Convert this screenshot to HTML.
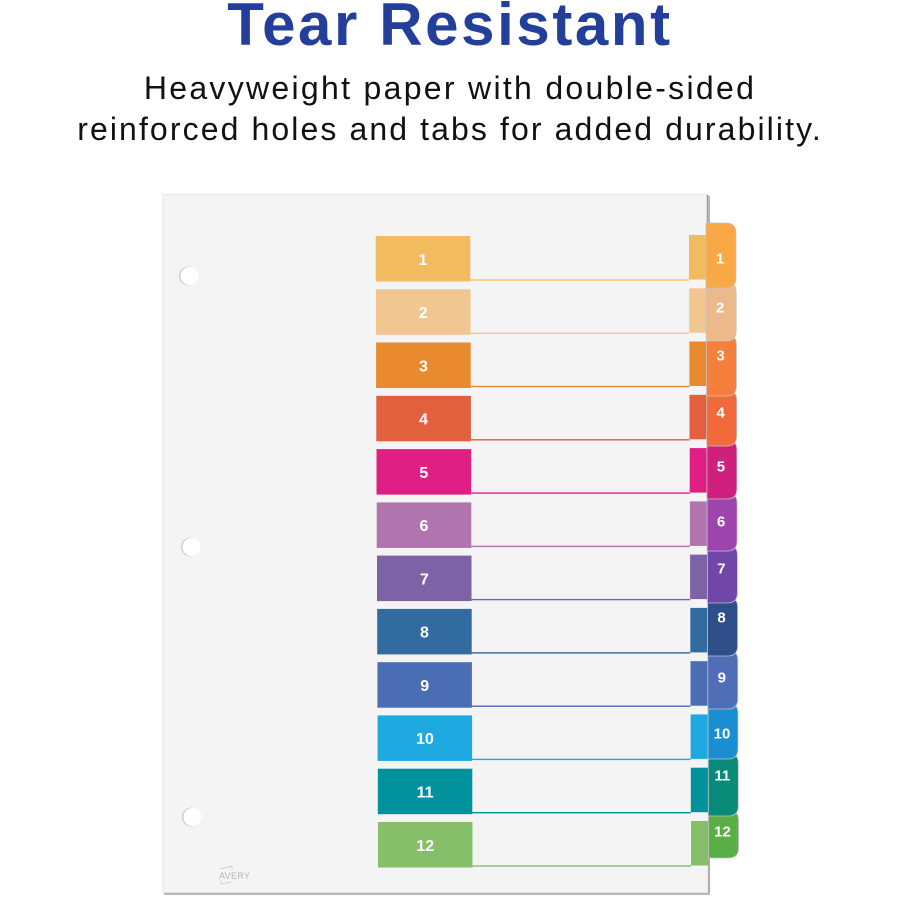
<!DOCTYPE html>
<html><head><meta charset="utf-8"><style>
html,body{margin:0;padding:0;background:#fff;}
body{width:900px;height:900px;position:relative;overflow:hidden;font-family:"Liberation Sans",sans-serif;}
.t{position:absolute;left:0;width:900px;text-align:center;white-space:nowrap;}
#title{top:-10px;font-size:60px;font-weight:bold;color:#243f99;letter-spacing:2.6px;line-height:70px;}
#s1{top:68px;font-size:32px;color:#111;letter-spacing:2.3px;line-height:40px;}
#s2{top:109px;font-size:32px;color:#111;letter-spacing:2.1px;line-height:40px;}
svg{position:absolute;left:0;top:0;}
</style></head><body>
<svg width="900" height="900" viewBox="0 0 900 900" xmlns="http://www.w3.org/2000/svg">
<rect x="164" y="196" width="546" height="699" fill="#b9b9b9"/>
<rect x="163" y="194.5" width="545" height="698" fill="#f4f4f4" stroke="#e2e2e2" stroke-width="0.8"/>
<line x1="707.5" y1="195" x2="707.5" y2="225" stroke="#9a9a9a" stroke-width="1.5"/>
<line x1="709" y1="855" x2="709" y2="893" stroke="#a8a8a8" stroke-width="1.5"/>
<circle cx="188.3" cy="276" r="9.5" fill="#d2d2d2"/>
<circle cx="189.5" cy="276" r="9" fill="#fff"/>
<circle cx="190.3" cy="547" r="9.5" fill="#d2d2d2"/>
<circle cx="191.5" cy="547" r="9" fill="#fff"/>
<circle cx="191.3" cy="817" r="9.5" fill="#d2d2d2"/>
<circle cx="192.5" cy="817" r="9" fill="#fff"/>
<text x="219" y="879" font-family="Liberation Sans, sans-serif" font-size="9" fill="#b5b5b5" letter-spacing="0.3">AVERY</text>
<path d="M220 869 L232 866 L232 870 M221 880 L221 884 L231 882" fill="none" stroke="#c5c5c5" stroke-width="0.7"/>

<g font-family="Liberation Sans, sans-serif" font-weight="bold" fill="#fff" text-anchor="middle" font-size="16">
<rect x="375.7" y="236" width="94.6" height="45.5" fill="#f3bb5f"/><rect x="689" y="235" width="17" height="44.5" fill="#f3bb5f"/><rect x="470.3" y="279.3" width="218.7" height="1.4" fill="#f3bb5f"/><text x="423" y="264.8">1</text>
<rect x="375.9" y="289.3" width="94.6" height="45.5" fill="#f2c690"/><rect x="689.2" y="288.3" width="17" height="44.5" fill="#f2c690"/><rect x="470.5" y="332.6" width="218.7" height="1.4" fill="#f2c690"/><text x="423.2" y="318">2</text>
<rect x="376.1" y="342.5" width="94.6" height="45.5" fill="#e98a2e"/><rect x="689.4" y="341.5" width="17.1" height="44.5" fill="#e98a2e"/><rect x="470.7" y="385.8" width="218.7" height="1.4" fill="#e98a2e"/><text x="423.4" y="371.3">3</text>
<rect x="376.3" y="395.8" width="94.6" height="45.5" fill="#e2603e"/><rect x="689.5" y="394.8" width="17.2" height="44.5" fill="#e2603e"/><rect x="470.9" y="439.1" width="218.6" height="1.4" fill="#e2603e"/><text x="423.6" y="424.6">4</text>
<rect x="376.5" y="449.1" width="94.6" height="45.5" fill="#df1f84"/><rect x="689.7" y="448.1" width="17.2" height="44.5" fill="#df1f84"/><rect x="471.1" y="492.4" width="218.6" height="1.4" fill="#df1f84"/><text x="423.8" y="477.8">5</text>
<rect x="376.7" y="502.4" width="94.6" height="45.5" fill="#b074ae"/><rect x="689.9" y="501.4" width="17.2" height="44.5" fill="#b074ae"/><rect x="471.3" y="545.7" width="218.6" height="1.4" fill="#b074ae"/><text x="424" y="531.1">6</text>
<rect x="377" y="555.6" width="94.5" height="45.5" fill="#7e62a6"/><rect x="690.1" y="554.6" width="17.3" height="44.5" fill="#7e62a6"/><rect x="471.5" y="598.9" width="218.6" height="1.4" fill="#7e62a6"/><text x="424.3" y="584.4">7</text>
<rect x="377.2" y="608.9" width="94.5" height="45.5" fill="#326ba0"/><rect x="690.3" y="607.9" width="17.3" height="44.5" fill="#326ba0"/><rect x="471.7" y="652.2" width="218.6" height="1.4" fill="#326ba0"/><text x="424.5" y="637.6">8</text>
<rect x="377.4" y="662.2" width="94.5" height="45.5" fill="#4a6db4"/><rect x="690.5" y="661.2" width="17.3" height="44.5" fill="#4a6db4"/><rect x="471.9" y="705.5" width="218.6" height="1.4" fill="#4a6db4"/><text x="424.7" y="690.9">9</text>
<rect x="377.6" y="715.4" width="94.5" height="45.5" fill="#1ea9e0"/><rect x="690.6" y="714.4" width="17.4" height="44.5" fill="#1ea9e0"/><rect x="472.1" y="758.7" width="218.5" height="1.4" fill="#1ea9e0"/><text x="424.9" y="744.2">10</text>
<rect x="377.8" y="768.7" width="94.5" height="45.5" fill="#00929c"/><rect x="690.8" y="767.7" width="17.5" height="44.5" fill="#00929c"/><rect x="472.3" y="812" width="218.5" height="1.4" fill="#00929c"/><text x="425.1" y="797.5">11</text>
<rect x="378" y="822" width="94.5" height="45.5" fill="#85bf6a"/><rect x="691" y="821" width="17.5" height="44.5" fill="#85bf6a"/><rect x="472.5" y="865.3" width="218.5" height="1.4" fill="#85bf6a"/><text x="425.3" y="850.8">12</text>
</g>

<g font-family="Liberation Sans, sans-serif" font-weight="bold" text-anchor="middle" font-size="15" stroke-width="0.8">
<path d="M708.5,810 L728.5,810 Q738.5,810 738.5,820 L738.5,848 Q738.5,858 728.5,858 L708.5,858 Z" fill="#5aae46" stroke="#c4c4c4"/>
<text x="722.5" y="836.5" fill="#fff">12</text>
<path d="M708.3,753 L728.3,753 Q738.3,753 738.3,763 L738.3,806 Q738.3,816 728.3,816 L708.3,816 Z" fill="#0a8a79" stroke="#c4c4c4"/>
<text x="722.3" y="780.5" fill="#fff">11</text>
<path d="M708,703 L728,703 Q738,703 738,713 L738,749 Q738,759 728,759 L708,759 Z" fill="#1b8ed3" stroke="#c4c4c4"/>
<text x="722" y="738.5" fill="#fff">10</text>
<path d="M707.8,650 L727.8,650 Q737.8,650 737.8,660 L737.8,699 Q737.8,709 727.8,709 L707.8,709 Z" fill="#506db7" stroke="#c4c4c4"/>
<text x="721.8" y="682.5" fill="#fff">9</text>
<path d="M707.6,597 L727.6,597 Q737.6,597 737.6,607 L737.6,646 Q737.6,656 727.6,656 L707.6,656 Z" fill="#2f4f8a" stroke="#c4c4c4"/>
<text x="721.6" y="622.5" fill="#fff">8</text>
<path d="M707.4,545 L727.4,545 Q737.4,545 737.4,555 L737.4,593 Q737.4,603 727.4,603 L707.4,603 Z" fill="#7047a8" stroke="#c4c4c4"/>
<text x="721.4" y="573.5" fill="#fff">7</text>
<path d="M707.1,493 L727.1,493 Q737.1,493 737.1,503 L737.1,541 Q737.1,551 727.1,551 L707.1,551 Z" fill="#9d45ac" stroke="#c4c4c4"/>
<text x="721.1" y="526.5" fill="#fff">6</text>
<path d="M706.9,440 L726.9,440 Q736.9,440 736.9,450 L736.9,489 Q736.9,499 726.9,499 L706.9,499 Z" fill="#d0207e" stroke="#c4c4c4"/>
<text x="720.9" y="471.5" fill="#fff">5</text>
<path d="M706.7,390 L726.7,390 Q736.7,390 736.7,400 L736.7,436 Q736.7,446 726.7,446 L706.7,446 Z" fill="#f2693c" stroke="#c4c4c4"/>
<text x="720.7" y="417.5" fill="#fff">4</text>
<path d="M706.5,335 L726.5,335 Q736.5,335 736.5,345 L736.5,386 Q736.5,396 726.5,396 L706.5,396 Z" fill="#f57f3b" stroke="#c4c4c4"/>
<text x="720.5" y="360.5" fill="#fff">3</text>
<path d="M706.2,282 L726.2,282 Q736.2,282 736.2,292 L736.2,331 Q736.2,341 726.2,341 L706.2,341 Z" fill="#ecba8a" stroke="#c4c4c4"/>
<text x="720.2" y="312.5" fill="#fff">2</text>
<path d="M706,223 L726,223 Q736,223 736,233 L736,278 Q736,288 726,288 L706,288 Z" fill="#f9a845" stroke="#c4c4c4"/>
<text x="720" y="263.5" fill="#fff">1</text>
</g>
</svg>
<div class="t" id="title">Tear Resistant</div>
<div class="t" id="s1">Heavyweight paper with double-sided</div>
<div class="t" id="s2">reinforced holes and tabs for added durability.</div>
</body></html>
